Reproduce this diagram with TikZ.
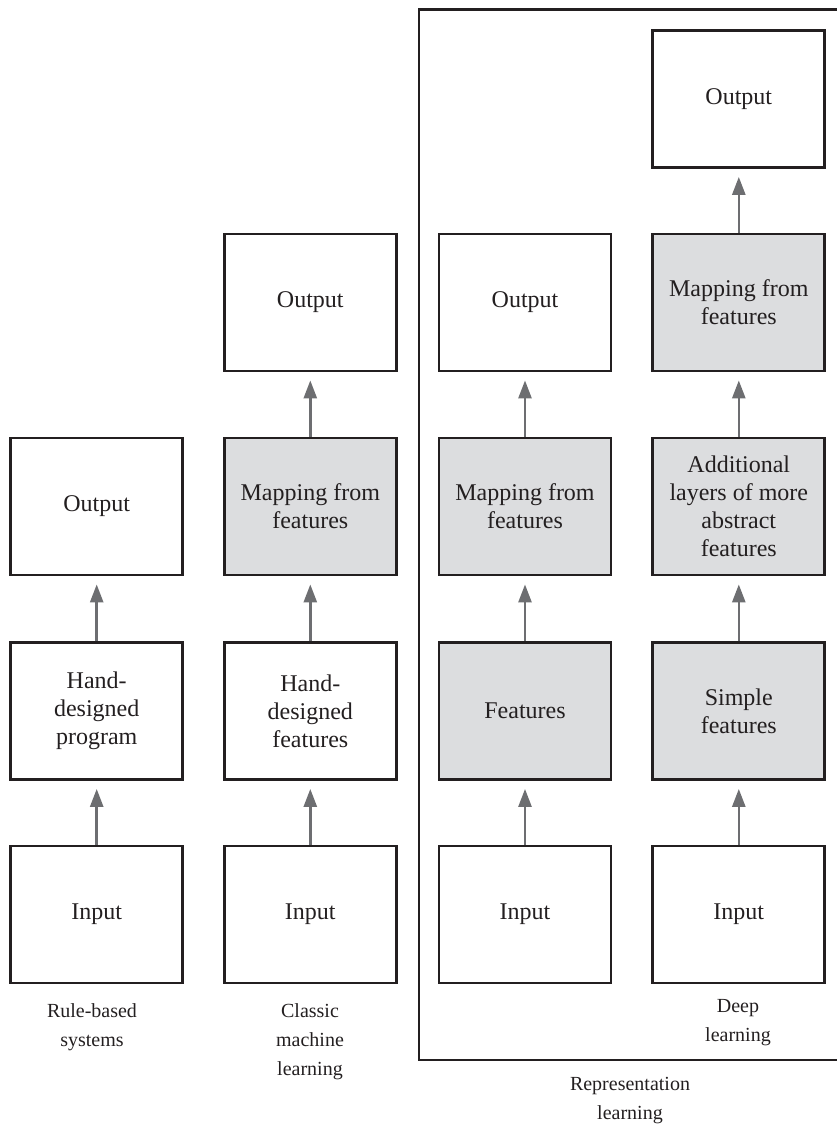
\documentclass[tikz,border=0pt]{standalone}
\usepackage{fontspec}
\setmainfont{Liberation Serif}
\usetikzlibrary{arrows.meta}
\definecolor{boxgray}{HTML}{DCDDDF}
\definecolor{arrowgray}{HTML}{6D6E71}
\definecolor{linegray}{HTML}{231F20}

\begin{document}
\begin{tikzpicture}[x=0.5pt,y=-0.5pt,
every node/.style={font=\fontsize{12}{14}\selectfont,align=center,text=linegray},
stage/.style={draw=linegray,line width=1.4pt,minimum width=86pt,minimum height=68.5pt,inner sep=0pt},
learned/.style={stage,fill=boxgray},
caption/.style={font=\fontsize{10}{14.5}\selectfont},
flow/.style={draw=arrowgray,line width=1.3pt,-{Triangle[length=9pt,width=6.5pt]},shorten >=4pt}]
\useasboundingbox (0,0) rectangle (836,1130);
% representation learning frame
\draw[linegray,line width=1.4pt] (419,9.5) rectangle (845,1060);
% rule-based systems
\node[stage] (in1) at (96.7,914.5) {Input};
\node[stage] (prog1) at (96.7,711) {Hand-\\designed\\program};
\node[stage] (out1) at (96.7,506.5) {Output};
% classic machine learning
\node[stage] (in2) at (310.3,914.5) {Input};
\node[stage] (hand2) at (310.3,711) {Hand-\\designed\\features};
\node[learned] (map2) at (310.3,506.5) {Mapping from\\features};
\node[stage] (out2) at (310.3,302.5) {Output};
% representation learning
\node[stage] (in3) at (525,914.5) {Input};
\node[learned] (feat3) at (525,711) {Features};
\node[learned] (map3) at (525,506.5) {Mapping from\\features};
\node[stage] (out3) at (525,302.5) {Output};
% deep learning
\node[stage] (in4) at (738.8,914.5) {Input};
\node[learned] (simple4) at (738.8,711) {Simple\\features};
\node[learned] (abstr4) at (738.8,506.5) {Additional\\layers of more\\abstract\\features};
\node[learned] (map4) at (738.8,302.5) {Mapping from\\features};
\node[stage] (out4) at (738.8,99) {Output};
\foreach \a/\b in {in1/prog1,prog1/out1,in2/hand2,hand2/map2,map2/out2,
  in3/feat3,feat3/map3,map3/out3,in4/simple4,simple4/abstr4,abstr4/map4,map4/out4}
  \draw[flow] (\a) -- (\b);
% captions
\node[caption] (rule) at (92,1027.5) {Rule-based\\systems};
\node[caption] (classic) at (310,1042) {Classic\\machine\\learning};
\node[caption] (deep) at (738,1022.5) {Deep\\learning};
\node[caption] (repr) at (630,1100.5) {Representation\\learning};
\end{tikzpicture}
\end{document}
